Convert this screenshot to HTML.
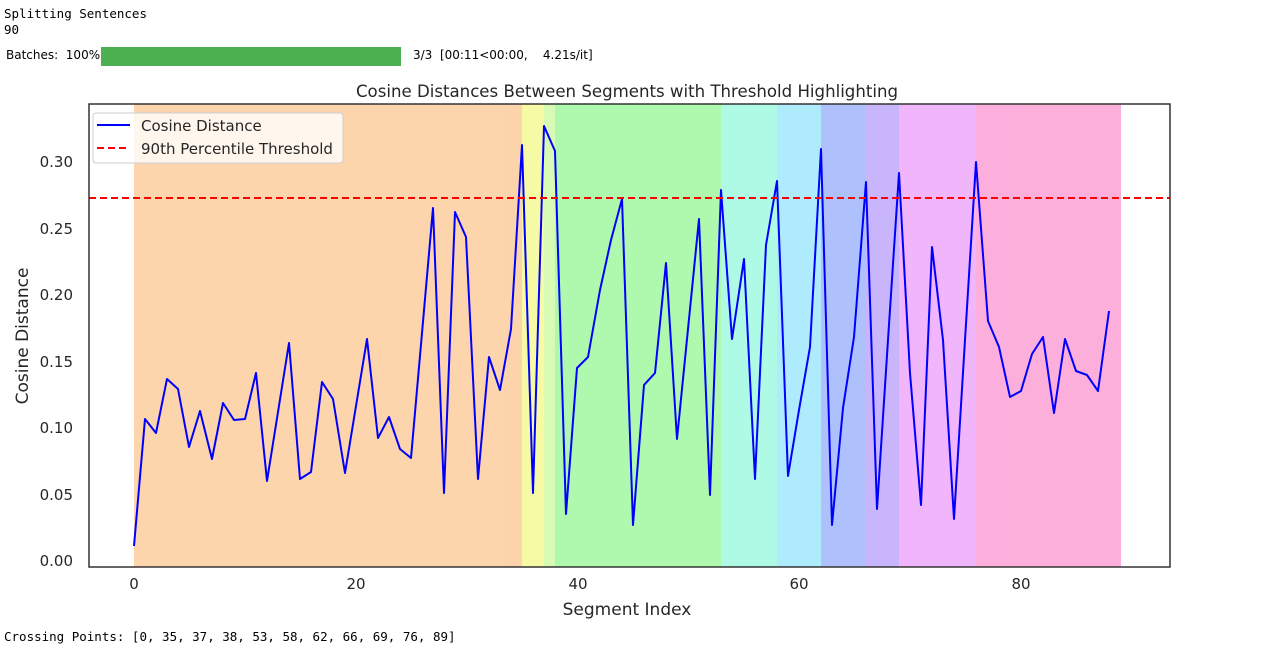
<!DOCTYPE html>
<html><head><meta charset="utf-8"><style>
body{margin:0;background:#fff;width:1272px;height:648px;overflow:hidden;position:relative;font-family:"DejaVu Sans","Liberation Sans",sans-serif}
.mono{position:absolute;font-family:"DejaVu Sans Mono","Liberation Mono",monospace;font-size:12.5px;color:#000;white-space:pre}
</style></head><body>
<div class="mono" style="left:4px;top:6px">Splitting Sentences</div>
<div class="mono" style="left:4px;top:22px">90</div>
<div style="position:absolute;left:6px;top:48px;font-size:12px">Batches:&nbsp; 100%</div>
<div style="position:absolute;left:101px;top:47px;width:300px;height:19px;background:#4caf50"></div>
<div style="position:absolute;left:413px;top:48px;font-size:12px;white-space:pre">3/3  [00:11&lt;00:00,    4.21s/it]</div>
<div class="mono" style="left:4px;top:629px">Crossing Points: [0, 35, 37, 38, 53, 58, 62, 66, 69, 76, 89]</div>
<svg width="1272" height="648" style="position:absolute;left:0;top:0" font-family="DejaVu Sans, Liberation Sans, sans-serif">
<g opacity="0.55">
<rect x="134" y="104" width="388" height="463" fill="#fbb268"/>
<rect x="522" y="104" width="22" height="463" fill="#f2f75a"/>
<rect x="544" y="104" width="11" height="463" fill="#b8f77a"/>
<rect x="555" y="104" width="166" height="463" fill="#6ef56e"/>
<rect x="721" y="104" width="56" height="463" fill="#6ef7cf"/>
<rect x="777" y="104" width="44" height="463" fill="#6ddcfb"/>
<rect x="821" y="104" width="45" height="463" fill="#6f8ffb"/>
<rect x="866" y="104" width="33" height="463" fill="#9e7af9"/>
<rect x="899" y="104" width="77" height="463" fill="#e479f9"/>
<rect x="976" y="104" width="145" height="463" fill="#fb6ec0"/>
</g>
<polyline fill="none" stroke="#0000ff" stroke-width="2" stroke-linejoin="round" points="134,546 145,419 156,433 167,379 178,389 189,447 200,411 212,459 223,403 234,420 245,419 256,373 267,481 278,412 289,343 300,479 311,472 322,382 333,399 345,473 356,406 367,339 378,438 389,417 400,449 411,458 422,333 433,208 444,493 455,212 466,237 478,479 489,357 500,390 511,329 522,145 533,493 544,126 555,151 566,514 577,368 588,357 600,290 611,240 622,199 633,525 644,385 655,373 666,263 677,439 688,329 699,219 710,495 721,190 732,339 744,259 755,479 766,245 777,181 788,476 799,410 810,347 821,149 832,525 843,408 854,337 866,182 877,509 888,340 899,173 910,373 921,505 932,247 943,340 954,519 965,340 976,162 988,321 999,347 1010,397 1021,391 1032,354 1043,337 1054,413 1065,339 1076,371 1087,375 1098,391 1109,311"/>
<line x1="89" y1="198" x2="1170" y2="198" stroke="#ff0000" stroke-width="2" stroke-dasharray="7,4"/>
<rect x="89" y="104" width="1081" height="463" fill="none" stroke="#333" stroke-width="1.5"/>
<rect x="93" y="113" width="250" height="50" rx="3" fill="#fff" fill-opacity="0.8" stroke="#ccc"/>
<line x1="97" y1="125" x2="130" y2="125" stroke="#0000ff" stroke-width="2"/>
<line x1="97" y1="148" x2="130" y2="148" stroke="#ff0000" stroke-width="2" stroke-dasharray="7,4"/>
<g font-size="15" fill="#262626">
<text x="141" y="131">Cosine Distance</text>
<text x="141" y="154">90th Percentile Threshold</text>
</g>
<g font-size="15" fill="#262626" text-anchor="end">
<text x="73" y="566">0.00</text><text x="73" y="500">0.05</text><text x="73" y="433">0.10</text><text x="73" y="367">0.15</text><text x="73" y="300">0.20</text><text x="73" y="234">0.25</text><text x="73" y="167">0.30</text>
</g>
<g font-size="15" fill="#262626" text-anchor="middle">
<text x="134" y="589">0</text><text x="356" y="589">20</text><text x="578" y="589">40</text><text x="799" y="589">60</text><text x="1021" y="589">80</text>
<text x="627" y="615" font-size="17">Segment Index</text>
<text x="627" y="97" font-size="16.6">Cosine Distances Between Segments with Threshold Highlighting</text>
<text transform="translate(28,336) rotate(-90)" font-size="17">Cosine Distance</text>
</g>
</svg>
</body></html>
